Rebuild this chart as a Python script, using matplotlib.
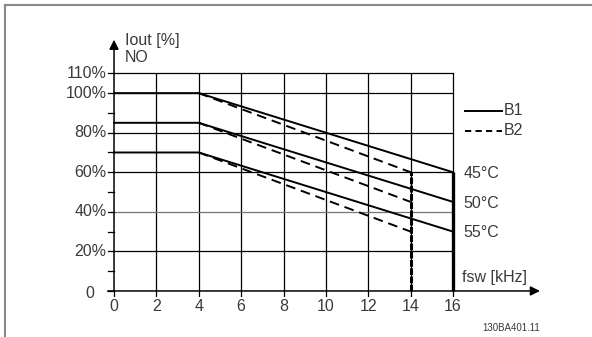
import matplotlib
matplotlib.use("Agg")
import matplotlib.pyplot as plt
from matplotlib.lines import Line2D

plt.rcParams['font.family'] = ['Liberation Sans', 'DejaVu Sans']

# Derating curves: output current vs switching frequency
knee_khz = 4
temps = ["45°C", "50°C", "55°C"]
start_pct = [100, 85, 70]
b1_end_khz = 16
b1_end_pct = [60, 45, 30]
b2_end_khz = 14
b2_end_pct = [60, 45, 30]
cutoff_pct = 60

x_ticks = [0, 2, 4, 6, 8, 10, 12, 14, 16]
x_labels = ["0", "2", "4", "6", "8", "10", "12", "14", "16"]
y_major = [0, 20, 40, 60, 80, 100, 110]
y_labels = ["0", "20%", "40%", "60%", "80%", "100%", "110%"]
y_minor = [10, 30, 50, 70, 90]
gray_rows = [40]

text_col = "#3a3a3a"
fs = 11.5

fig = plt.figure(figsize=(5.92, 3.37), dpi=100)
ax = fig.add_axes([0.1568, 0.119, 0.7696, 0.769])
ax.set_xlim(-1, 20.5)
ax.set_ylim(-3, 128)
ax.axis("off")

# Grid
for xv in x_ticks[1:]:
    ax.plot([xv, xv], [0, 110], color="black", lw=0.9, solid_capstyle="butt")
for yv in y_major[1:]:
    c = "#777777" if yv in gray_rows else "black"
    ax.plot([0, 16], [yv, yv], color=c, lw=0.9)

# Axis ticks
for yv in y_major:
    ax.plot([-0.28, 0], [yv, yv], color="black", lw=0.9)
for yv in y_minor:
    ax.plot([-0.28, 0], [yv, yv], color="black", lw=0.9)
for xv in x_ticks:
    ax.plot([xv, xv], [0, -2.5], color="black", lw=0.9)

# Axes with arrows
ax.annotate("", xy=(0, 127), xytext=(0, -0.2),
            arrowprops=dict(arrowstyle="-|>", color="black", lw=1.1,
                            mutation_scale=14, shrinkA=0, shrinkB=0))
ax.annotate("", xy=(20.1, 0), xytext=(-0.3, 0),
            arrowprops=dict(arrowstyle="-|>", color="black", lw=1.1,
                            mutation_scale=14, shrinkA=0, shrinkB=0))

# Tick labels
for xv, lab in zip(x_ticks, x_labels):
    ax.text(xv, -7.8, lab, ha="center", va="center", fontsize=fs, color=text_col)
for yv, lab in zip(y_major, y_labels):
    if yv == 0:
        ax.text(-0.95, -1.2, lab, ha="right", va="center", fontsize=fs,
                color=text_col)
    else:
        ax.text(-0.35, yv, lab, ha="right", va="center", fontsize=fs,
                color=text_col)

# Curves
for s, e1, e2 in zip(start_pct, b1_end_pct, b2_end_pct):
    ax.plot([0, knee_khz, b1_end_khz], [s, s, e1], color="black", lw=1.4)
    ax.plot([knee_khz, b2_end_khz], [s, e2], color="black", lw=1.4,
            dashes=(5, 3))

# Frequency limits
ax.plot([b1_end_khz, b1_end_khz], [0, cutoff_pct], color="black", lw=2.4,
        solid_capstyle="butt")
ax.plot([b2_end_khz, b2_end_khz], [0, cutoff_pct], color="black", lw=2.2,
        dashes=(2.2, 0.5))

# Temperature labels
for t, yv in zip(temps, b1_end_pct):
    ax.text(16.5, yv - 0.7, t, ha="left", va="center", fontsize=fs, color=text_col)

# Legend
ax.plot([16.56, 18.3], [91, 91], color="black", lw=1.4, clip_on=False)
ax.text(18.4, 91, "B1", ha="left", va="center", fontsize=fs, color=text_col)
ax.plot([16.56, 18.3], [81, 81], color="black", lw=1.4, dashes=(3.2, 2.2),
        clip_on=False)
ax.text(18.4, 81, "B2", ha="left", va="center", fontsize=fs, color=text_col)

# Axis titles
ax.text(0.5, 126.5, "Iout [%]", ha="left", va="center", fontsize=fs, color=text_col)
ax.text(0.5, 118, "NO", ha="left", va="center", fontsize=fs, color=text_col)
ax.text(16.4, 6.7, "fsw [kHz]", ha="left", va="center", fontsize=fs, color=text_col)

fig.text(540 / 592, 1 - 328 / 337, "130BA401.11", ha="right", va="center",
         fontsize=7, color=text_col)

# Frame
fig.add_artist(Line2D([4.5 / 592, 1], [1 - 4.5 / 337, 1 - 4.5 / 337],
                      color="#888888", lw=1.5, transform=fig.transFigure))
fig.add_artist(Line2D([4.5 / 592, 4.5 / 592], [0, 1 - 4.5 / 337],
                      color="#888888", lw=1.5, transform=fig.transFigure))

fig.savefig("out.png", dpi=100)
